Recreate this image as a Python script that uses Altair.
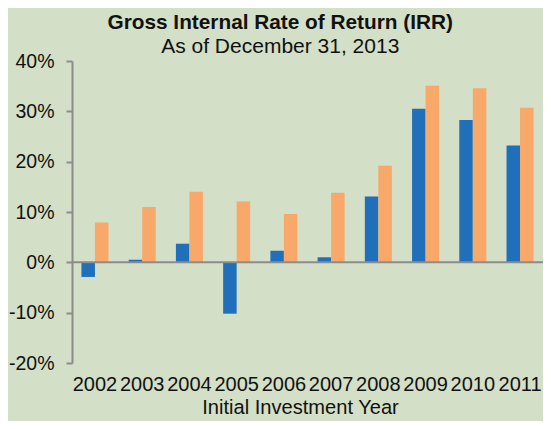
import altair as alt
import pandas as pd

years = ["2002", "2003", "2004", "2005", "2006", "2007", "2008", "2009", "2010", "2011"]
fund_irr = [-2.9, 0.5, 3.7, -10.2, 2.3, 1.0, 13.1, 30.5, 28.3, 23.2]
bench_irr = [7.9, 11.0, 14.0, 12.1, 9.6, 13.8, 19.2, 35.1, 34.6, 30.7]
series = ["Fund", "Benchmark"]
colors = ["#1f6fba", "#f8a96a"]
y_ticks = [-0.2, -0.1, 0.0, 0.1, 0.2, 0.3, 0.4]

rows = []
for yr, a, b in zip(years, fund_irr, bench_irr):
    rows.append({"year": yr, "series": series[0], "irr": a / 100})
    rows.append({"year": yr, "series": series[1], "irr": b / 100})
df = pd.DataFrame(rows)

FONT = "Liberation Sans"

bars = alt.Chart(df).mark_bar().encode(
    x=alt.X(
        "year:N",
        sort=years,
        title="Initial Investment Year",
        scale=alt.Scale(paddingInner=0.428, paddingOuter=0.2),
        axis=alt.Axis(
            labelAngle=0, domain=False, ticks=False,
            labelFontSize=20, titleFontSize=20.1, titleFontWeight="normal",
            labelPadding=11, titlePadding=3, titleX=228, titleAlign="center",
            labelColor="#111111", titleColor="#111111",
            labelFont=FONT, titleFont=FONT,
        ),
    ),
    xOffset=alt.XOffset("series:N", sort=series),
    y=alt.Y(
        "irr:Q",
        title=None,
        scale=alt.Scale(domain=[-0.2, 0.4], nice=False),
        axis=alt.Axis(
            format=".0%", values=y_ticks, grid=False,
            labelExpr="replace(datum.label, '\u2212', '-')",
            tickSize=6, tickWidth=2, tickColor="#8c8c8c",
            domainColor="#8c8c8c", domainWidth=2,
            labelPadding=12, labelFontSize=19.5, labelColor="#111111", labelFont=FONT,
        ),
    ),
    color=alt.Color("series:N", scale=alt.Scale(domain=series, range=colors), legend=None),
)

zero = alt.Chart(pd.DataFrame({"y": [0.0]})).mark_rule(color="#8c8c8c", strokeWidth=2).encode(y="y:Q")

chart = alt.layer(bars, zero).properties(
    width=471,
    height=302,
    autosize=alt.AutoSizeParams(type="none"),
    padding={"left": 64, "top": 53, "right": 0, "bottom": 58},
    background="#d3dfc6",
    title=alt.TitleParams(
        text="Gross Internal Rate of Return (IRR)",
        subtitle="As of December 31, 2013",
        font=FONT, fontSize=20.8, fontWeight="bold", color="#111111",
        subtitleFont=FONT, subtitleFontSize=21, subtitleColor="#111111",
        subtitlePadding=2, offset=-7, anchor="middle", frame="bounds", dx=4,
    ),
).configure_view(stroke=None)

chart.save("out.html", embed_options={"renderer": "svg", "actions": False})
